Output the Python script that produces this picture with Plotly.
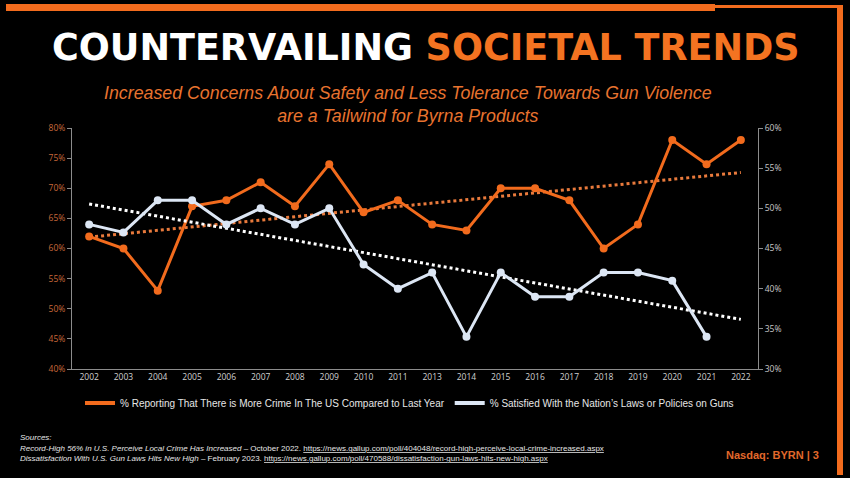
import numpy as np
import plotly.graph_objects as go

# ---------------- data ----------------
years = ["2002", "2003", "2004", "2005", "2006", "2007", "2008", "2009", "2010", "2011",
         "2013", "2014", "2015", "2016", "2017", "2018", "2019", "2020", "2021", "2022"]
more_crime = [62, 60, 53, 67, 68, 71, 67, 74, 66, 68,
              64, 63, 70, 70, 68, 60, 64, 78, 74, 78]
satisfied_guns = [48, 47, 51, 51, 48, 50, 48, 50, 43, 40,
                  42, 34, 42, 39, 39, 42, 42, 41, 34, None]
crime_name = "% Reporting That There is More Crime In The US Compared to Last Year"
guns_name = "% Satisfied With the Nation\u2019s Laws or Policies on Guns"

# ---------------- styling ----------------
W, H = 850, 478
L, R, T, B = 72, 758, 128, 369
ORANGE = "#F26B1D"
ORANGE_TXT = "#E8732F"
WHITE_LINE = "#DCE6F4"


def px(x):
    return (x - L) / (R - L)


def py(y):
    return (B - y) / (B - T)


# linear trendlines (least squares, as the spreadsheet trendline)
idx = np.arange(len(years))
c_fit = np.polyfit(idx, more_crime, 1)
g_valid = [(i, v) for i, v in zip(idx, satisfied_guns) if v is not None]
g_fit = np.polyfit([i for i, _ in g_valid], [v for _, v in g_valid], 1)
crime_trend = np.polyval(c_fit, idx)
guns_trend = np.polyval(g_fit, idx)

fig = go.Figure()

fig.add_trace(go.Scatter(x=years, y=crime_trend, mode="lines", yaxis="y",
                         line=dict(color="#E97A3C", width=3, dash="dot"),
                         showlegend=False, hoverinfo="skip"))
fig.add_trace(go.Scatter(x=years, y=guns_trend, mode="lines", yaxis="y2",
                         line=dict(color="#FFFFFF", width=3, dash="dot"),
                         showlegend=False, hoverinfo="skip"))
fig.add_trace(go.Scatter(x=years, y=more_crime, mode="lines+markers", yaxis="y",
                         line=dict(color=ORANGE, width=3),
                         marker=dict(color=ORANGE, size=8),
                         name=crime_name, showlegend=False))
fig.add_trace(go.Scatter(x=years, y=satisfied_guns, mode="lines+markers", yaxis="y2",
                         line=dict(color=WHITE_LINE, width=3),
                         marker=dict(color=WHITE_LINE, size=8),
                         name=guns_name, showlegend=False, connectgaps=False))
# legend entries (line only, as in the reference)
fig.add_trace(go.Scatter(x=[None], y=[None], mode="lines", yaxis="y",
                         line=dict(color=ORANGE, width=4), name=crime_name))
fig.add_trace(go.Scatter(x=[None], y=[None], mode="lines", yaxis="y2",
                         line=dict(color=WHITE_LINE, width=4), name=guns_name))

axis_line = "#8C8C8C"
tick_font = dict(family="Open Sans", size=8.5)

fig.update_layout(
    width=W, height=H,
    margin=dict(l=L, r=W - R, t=T, b=H - B, pad=0),
    paper_bgcolor="#000000", plot_bgcolor="#000000",
    xaxis=dict(type="category", categoryorder="array", categoryarray=years,
               range=[-0.5, len(years) - 0.5], showgrid=False, zeroline=False,
               showline=True, linecolor=axis_line, linewidth=1, ticks="",
               tickfont=dict(tick_font, color="#D0D0D0"), fixedrange=True),
    yaxis=dict(range=[40, 80], dtick=5, ticksuffix="%", showgrid=False, zeroline=False,
               showline=True, linecolor=axis_line, linewidth=1, ticks="outside",
               ticklen=4, tickcolor=axis_line,
               tickfont=dict(tick_font, color="#C9683A")),
    yaxis2=dict(range=[30, 60], dtick=5, ticksuffix="%", overlaying="y", side="right",
                showgrid=False, zeroline=False, showline=True, linecolor=axis_line,
                linewidth=1, ticks="outside", ticklen=4, tickcolor=axis_line,
                tickfont=dict(tick_font, color="#C8C8C8")),
    legend=dict(orientation="h", x=px(80), xanchor="left", y=py(403), yanchor="middle",
                bgcolor="rgba(0,0,0,0)", borderwidth=0,
                font=dict(family="Liberation Sans", size=10, color="#E6E6E6"),
                itemwidth=30, tracegroupgap=0),
    showlegend=True,
)

annotations = [
    dict(text="COUNTERVAILING <span style='color:#F47321'>SOCIETAL TRENDS</span>",
         x=px(426), y=py(47), xanchor="center", yanchor="middle",
         font=dict(family="DejaVu Sans", size=36.5, color="#FFFFFF", weight="bold")),
    dict(text="<i>Increased Concerns About Safety and Less Tolerance Towards Gun Violence"
              "<br>are a Tailwind for Byrna Products</i>",
         x=px(408), y=py(105), xanchor="center", yanchor="middle",
         font=dict(family="Liberation Sans", size=17.8, color=ORANGE_TXT)),
    dict(text="<i>Sources:</i>", x=px(18), y=py(438), xanchor="left", yanchor="middle",
         font=dict(family="Liberation Sans", size=8, color="#E6E6E6")),
    dict(text="<i>Record-High 56% in U.S. Perceive Local Crime Has Increased</i> \u2013 October 2022. "
              "<span style='text-decoration:underline'>https://news.gallup.com/poll/404048/"
              "record-high-perceive-local-crime-increased.aspx</span>",
         x=px(18), y=py(448), xanchor="left", yanchor="middle",
         font=dict(family="Liberation Sans", size=8, color="#E6E6E6")),
    dict(text="<i>Dissatisfaction With U.S. Gun Laws Hits New High</i> \u2013 February 2023. "
              "<span style='text-decoration:underline'>https://news.gallup.com/poll/470588/"
              "dissatisfaction-gun-laws-hits-new-high.aspx</span>",
         x=px(18), y=py(458), xanchor="left", yanchor="middle",
         font=dict(family="Liberation Sans", size=8, color="#E6E6E6")),
    dict(text="Nasdaq: BYRN | 3", x=px(772), y=py(455), xanchor="center", yanchor="middle",
         font=dict(family="Liberation Sans", size=11, color="#E2692B", weight="bold")),
]
for a in annotations:
    a.update(xref="paper", yref="paper", showarrow=False)
fig.update_layout(annotations=annotations)

frame = [
    (6, 4, 715, 11),
    (715, 5, 843, 8),
    (837, 5, 843, 475),
]
shapes = []
for x0, y0, x1, y1 in frame:
    shapes.append(dict(type="rect", xref="paper", yref="paper",
                       x0=px(x0), x1=px(x1), y0=py(y1), y1=py(y0),
                       fillcolor="#F26B1D", line=dict(width=0), layer="above"))
fig.update_layout(shapes=shapes)

fig.write_html("out.html",
               config={"displayModeBar": False},
               post_script="document.body.style.margin='0';"
                           "document.body.style.background='#000';")
